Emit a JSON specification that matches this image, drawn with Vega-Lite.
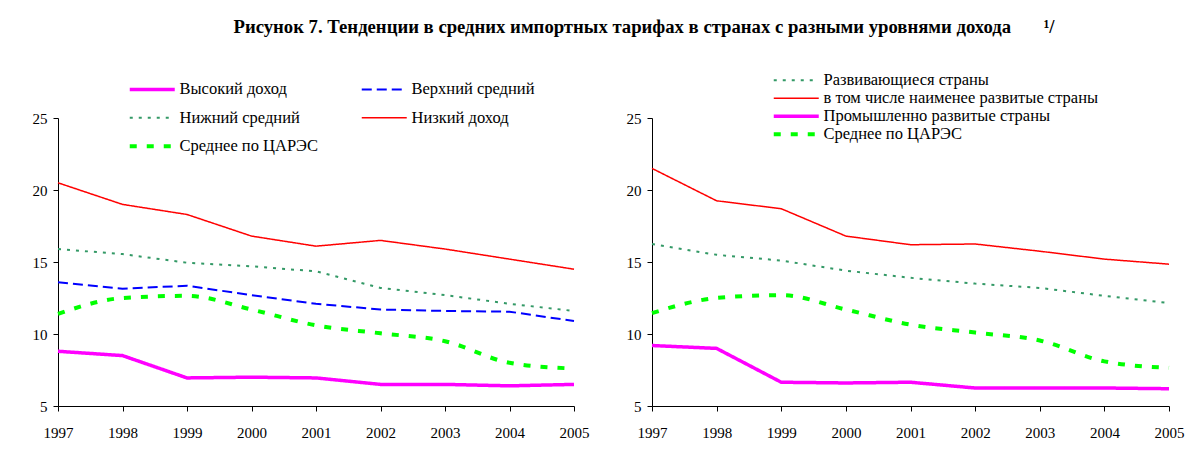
{
  "$schema": "https://vega.github.io/schema/vega-lite/v6.json",
  "background": "white",
  "padding": {"left": 32, "top": 18, "right": 10, "bottom": 5},
  "title": {
    "text": "Рисунок 7. Тенденции в средних импортных тарифах в странах с разными уровнями дохода\u00a0\u00a0\u00a0\u00a0\u00a0\u00a0\u00a0¹/",
    "font": "Liberation Serif",
    "fontSize": 18.7,
    "fontWeight": "bold",
    "color": "black",
    "anchor": "middle",
    "offset": 35,
    "dx": 36
  },
  "datasets": {
    "left": [
      {"s": "Высокий доход", "year": 1997, "v": 8.8},
      {"s": "Высокий доход", "year": 1998, "v": 8.5},
      {"s": "Высокий доход", "year": 1999, "v": 6.95},
      {"s": "Высокий доход", "year": 2000, "v": 7.0},
      {"s": "Высокий доход", "year": 2001, "v": 6.95},
      {"s": "Высокий доход", "year": 2002, "v": 6.5},
      {"s": "Высокий доход", "year": 2003, "v": 6.5},
      {"s": "Высокий доход", "year": 2004, "v": 6.4},
      {"s": "Высокий доход", "year": 2005, "v": 6.5},
      {"s": "Верхний средний", "year": 1997, "v": 13.6},
      {"s": "Верхний средний", "year": 1998, "v": 13.15},
      {"s": "Верхний средний", "year": 1999, "v": 13.35},
      {"s": "Верхний средний", "year": 2000, "v": 12.7},
      {"s": "Верхний средний", "year": 2001, "v": 12.1},
      {"s": "Верхний средний", "year": 2002, "v": 11.7},
      {"s": "Верхний средний", "year": 2003, "v": 11.6},
      {"s": "Верхний средний", "year": 2004, "v": 11.55},
      {"s": "Верхний средний", "year": 2005, "v": 10.9},
      {"s": "Нижний средний", "year": 1997, "v": 15.9},
      {"s": "Нижний средний", "year": 1998, "v": 15.55},
      {"s": "Нижний средний", "year": 1999, "v": 14.95},
      {"s": "Нижний средний", "year": 2000, "v": 14.7},
      {"s": "Нижний средний", "year": 2001, "v": 14.35},
      {"s": "Нижний средний", "year": 2002, "v": 13.2},
      {"s": "Нижний средний", "year": 2003, "v": 12.7},
      {"s": "Нижний средний", "year": 2004, "v": 12.1},
      {"s": "Нижний средний", "year": 2005, "v": 11.6},
      {"s": "Низкий доход", "year": 1997, "v": 20.5},
      {"s": "Низкий доход", "year": 1998, "v": 19.0},
      {"s": "Низкий доход", "year": 1999, "v": 18.3},
      {"s": "Низкий доход", "year": 2000, "v": 16.8},
      {"s": "Низкий доход", "year": 2001, "v": 16.1},
      {"s": "Низкий доход", "year": 2002, "v": 16.5},
      {"s": "Низкий доход", "year": 2003, "v": 15.9},
      {"s": "Низкий доход", "year": 2004, "v": 15.2},
      {"s": "Низкий доход", "year": 2005, "v": 14.5},
      {"s": "Среднее по ЦАРЭС", "year": 1997, "v": 11.4},
      {"s": "Среднее по ЦАРЭС", "year": 1998, "v": 12.5},
      {"s": "Среднее по ЦАРЭС", "year": 1999, "v": 12.65},
      {"s": "Среднее по ЦАРЭС", "year": 2000, "v": 11.7},
      {"s": "Среднее по ЦАРЭС", "year": 2001, "v": 10.6},
      {"s": "Среднее по ЦАРЭС", "year": 2002, "v": 10.05},
      {"s": "Среднее по ЦАРЭС", "year": 2003, "v": 9.5},
      {"s": "Среднее по ЦАРЭС", "year": 2004, "v": 8.0},
      {"s": "Среднее по ЦАРЭС", "year": 2005, "v": 7.6}
    ],
    "right": [
      {"s": "Развивающиеся страны", "year": 1997, "v": 16.25},
      {"s": "Развивающиеся страны", "year": 1998, "v": 15.5},
      {"s": "Развивающиеся страны", "year": 1999, "v": 15.1},
      {"s": "Развивающиеся страны", "year": 2000, "v": 14.4},
      {"s": "Развивающиеся страны", "year": 2001, "v": 13.9},
      {"s": "Развивающиеся страны", "year": 2002, "v": 13.5},
      {"s": "Развивающиеся страны", "year": 2003, "v": 13.2},
      {"s": "Развивающиеся страны", "year": 2004, "v": 12.65},
      {"s": "Развивающиеся страны", "year": 2005, "v": 12.15},
      {"s": "в том числе наименее развитые страны", "year": 1997, "v": 21.5},
      {"s": "в том числе наименее развитые страны", "year": 1998, "v": 19.25},
      {"s": "в том числе наименее развитые страны", "year": 1999, "v": 18.7},
      {"s": "в том числе наименее развитые страны", "year": 2000, "v": 16.8},
      {"s": "в том числе наименее развитые страны", "year": 2001, "v": 16.2},
      {"s": "в том числе наименее развитые страны", "year": 2002, "v": 16.25},
      {"s": "в том числе наименее развитые страны", "year": 2003, "v": 15.75},
      {"s": "в том числе наименее развитые страны", "year": 2004, "v": 15.2},
      {"s": "в том числе наименее развитые страны", "year": 2005, "v": 14.85},
      {"s": "Промышленно развитые страны", "year": 1997, "v": 9.2},
      {"s": "Промышленно развитые страны", "year": 1998, "v": 9.0},
      {"s": "Промышленно развитые страны", "year": 1999, "v": 6.65},
      {"s": "Промышленно развитые страны", "year": 2000, "v": 6.6},
      {"s": "Промышленно развитые страны", "year": 2001, "v": 6.65},
      {"s": "Промышленно развитые страны", "year": 2002, "v": 6.25},
      {"s": "Промышленно развитые страны", "year": 2003, "v": 6.25},
      {"s": "Промышленно развитые страны", "year": 2004, "v": 6.25},
      {"s": "Промышленно развитые страны", "year": 2005, "v": 6.2},
      {"s": "Среднее по ЦАРЭС", "year": 1997, "v": 11.45},
      {"s": "Среднее по ЦАРЭС", "year": 1998, "v": 12.5},
      {"s": "Среднее по ЦАРЭС", "year": 1999, "v": 12.7},
      {"s": "Среднее по ЦАРЭС", "year": 2000, "v": 11.7},
      {"s": "Среднее по ЦАРЭС", "year": 2001, "v": 10.65},
      {"s": "Среднее по ЦАРЭС", "year": 2002, "v": 10.1},
      {"s": "Среднее по ЦАРЭС", "year": 2003, "v": 9.55},
      {"s": "Среднее по ЦАРЭС", "year": 2004, "v": 8.1},
      {"s": "Среднее по ЦАРЭС", "year": 2005, "v": 7.65}
    ]
  },
  "bounds": "flush",
  "spacing": 78,
  "resolve": {
    "scale": {"color": "independent", "strokeDash": "independent", "strokeWidth": "independent"},
    "legend": {"color": "independent", "strokeDash": "independent", "strokeWidth": "independent"}
  },
  "hconcat": [
    {
      "width": 516,
      "height": 288,
      "data": {"name": "left"},
      "encoding": {
        "x": {"field": "year", "type": "quantitative", "scale": {"domain": [1997, 2005], "nice": false, "zero": false},
              "axis": {"values": [1997, 1998, 1999, 2000, 2001, 2002, 2003, 2004, 2005], "format": "d", "title": null,
                       "labelFont": "Liberation Serif", "labelFontSize": 15, "labelFlush": false, "labelOverlap": false}},
        "y": {"field": "v", "type": "quantitative", "scale": {"domain": [5, 25], "nice": false, "zero": false},
              "axis": {"values": [5, 10, 15, 20, 25], "title": null, "labelFont": "Liberation Serif", "labelFontSize": 15, "labelFlush": false}},
        "color": {"field": "s", "type": "nominal",
          "scale": {"domain": ["Высокий доход", "Нижний средний", "Среднее по ЦАРЭС", "Верхний средний", "Низкий доход"],
                    "range": ["#ff00ff", "#339966", "#00ff00", "#0000ff", "#ff0000"]},
          "legend": {"orient": "none", "legendX": 86, "legendY": -37, "columns": 2, "columnPadding": 39, "rowPadding": 11.5,
                     "title": null, "symbolType": "M-5,0H5", "symbolSize": 81, "labelFont": "Liberation Serif",
                     "labelFontSize": 16.5, "labelLimit": 400, "labelOffset": 19, "padding": 0, "labelColor": "black"}},
        "strokeDash": {"field": "s", "type": "nominal",
          "scale": {"domain": ["Высокий доход", "Нижний средний", "Среднее по ЦАРЭС", "Верхний средний", "Низкий доход"],
                    "range": [[1, 0], [3, 6], [7, 10], [10, 5], [1, 0]]},
          "legend": {"orient": "none", "legendX": 86, "legendY": -37, "columns": 2, "columnPadding": 39, "rowPadding": 11.5,
                     "title": null, "symbolType": "M-5,0H5", "symbolSize": 81, "labelFont": "Liberation Serif",
                     "labelFontSize": 16.5, "labelLimit": 400, "labelOffset": 19, "padding": 0, "labelColor": "black"}},
        "strokeWidth": {"field": "s", "type": "nominal",
          "scale": {"type": "ordinal", "domain": ["Высокий доход", "Нижний средний", "Среднее по ЦАРЭС", "Верхний средний", "Низкий доход"],
                    "range": [3.5, 2, 4, 2, 1.5]},
          "legend": {"orient": "none", "legendX": 86, "legendY": -37, "columns": 2, "columnPadding": 39, "rowPadding": 11.5,
                     "title": null, "symbolType": "M-5,0H5", "symbolSize": 81, "labelFont": "Liberation Serif",
                     "labelFontSize": 16.5, "labelLimit": 400, "labelOffset": 19, "padding": 0, "labelColor": "black"}}
      },
      "layer": [
        {"transform": [{"filter": "datum.s !== 'Среднее по ЦАРЭС'"}], "mark": {"type": "line", "strokeCap": "butt"}},
        {"transform": [{"filter": "datum.s === 'Среднее по ЦАРЭС'"}], "mark": {"type": "line", "interpolate": "monotone", "strokeCap": "butt"}}
      ]
    },
    {
      "width": 517,
      "height": 288,
      "data": {"name": "right"},
      "encoding": {
        "x": {"field": "year", "type": "quantitative", "scale": {"domain": [1997, 2005], "nice": false, "zero": false},
              "axis": {"values": [1997, 1998, 1999, 2000, 2001, 2002, 2003, 2004, 2005], "format": "d", "title": null,
                       "labelFont": "Liberation Serif", "labelFontSize": 15, "labelFlush": false, "labelOverlap": false}},
        "y": {"field": "v", "type": "quantitative", "scale": {"domain": [5, 25], "nice": false, "zero": false},
              "axis": {"values": [5, 10, 15, 20, 25], "title": null, "labelFont": "Liberation Serif", "labelFontSize": 15, "labelFlush": false}},
        "color": {"field": "s", "type": "nominal",
          "scale": {"domain": ["Развивающиеся страны", "в том числе наименее развитые страны", "Промышленно развитые страны", "Среднее по ЦАРЭС"],
                    "range": ["#339966", "#ff0000", "#ff00ff", "#00ff00"]},
          "legend": {"orient": "none", "legendX": 136, "legendY": -46, "columns": 1, "rowPadding": 1,
                     "title": null, "symbolType": "M-5,0H5", "symbolSize": 81, "labelFont": "Liberation Serif",
                     "labelFontSize": 16.5, "labelLimit": 400, "labelOffset": 19, "padding": 0, "labelColor": "black"}},
        "strokeDash": {"field": "s", "type": "nominal",
          "scale": {"domain": ["Развивающиеся страны", "в том числе наименее развитые страны", "Промышленно развитые страны", "Среднее по ЦАРЭС"],
                    "range": [[3, 6], [1, 0], [1, 0], [7, 10]]},
          "legend": {"orient": "none", "legendX": 136, "legendY": -46, "columns": 1, "rowPadding": 1,
                     "title": null, "symbolType": "M-5,0H5", "symbolSize": 81, "labelFont": "Liberation Serif",
                     "labelFontSize": 16.5, "labelLimit": 400, "labelOffset": 19, "padding": 0, "labelColor": "black"}},
        "strokeWidth": {"field": "s", "type": "nominal",
          "scale": {"type": "ordinal", "domain": ["Развивающиеся страны", "в том числе наименее развитые страны", "Промышленно развитые страны", "Среднее по ЦАРЭС"],
                    "range": [2, 1.5, 3.5, 4]},
          "legend": {"orient": "none", "legendX": 136, "legendY": -46, "columns": 1, "rowPadding": 1,
                     "title": null, "symbolType": "M-5,0H5", "symbolSize": 81, "labelFont": "Liberation Serif",
                     "labelFontSize": 16.5, "labelLimit": 400, "labelOffset": 19, "padding": 0, "labelColor": "black"}}
      },
      "layer": [
        {"transform": [{"filter": "datum.s !== 'Среднее по ЦАРЭС'"}], "mark": {"type": "line", "strokeCap": "butt"}},
        {"transform": [{"filter": "datum.s === 'Среднее по ЦАРЭС'"}], "mark": {"type": "line", "interpolate": "monotone", "strokeCap": "butt"}}
      ]
    }
  ],
  "config": {
    "view": {"stroke": null},
    "axis": {"labelFont": "Liberation Serif", "labelFontSize": 15, "labelColor": "black", "domainColor": "black",
             "tickColor": "black", "grid": false, "ticks": true, "tickSize": 5, "domainWidth": 1, "tickWidth": 1},
    "axisX": {"labelPadding": 14, "labelFont": "Liberation Serif"},
    "axisY": {"labelPadding": 6, "labelFont": "Liberation Serif"}
  }
}
